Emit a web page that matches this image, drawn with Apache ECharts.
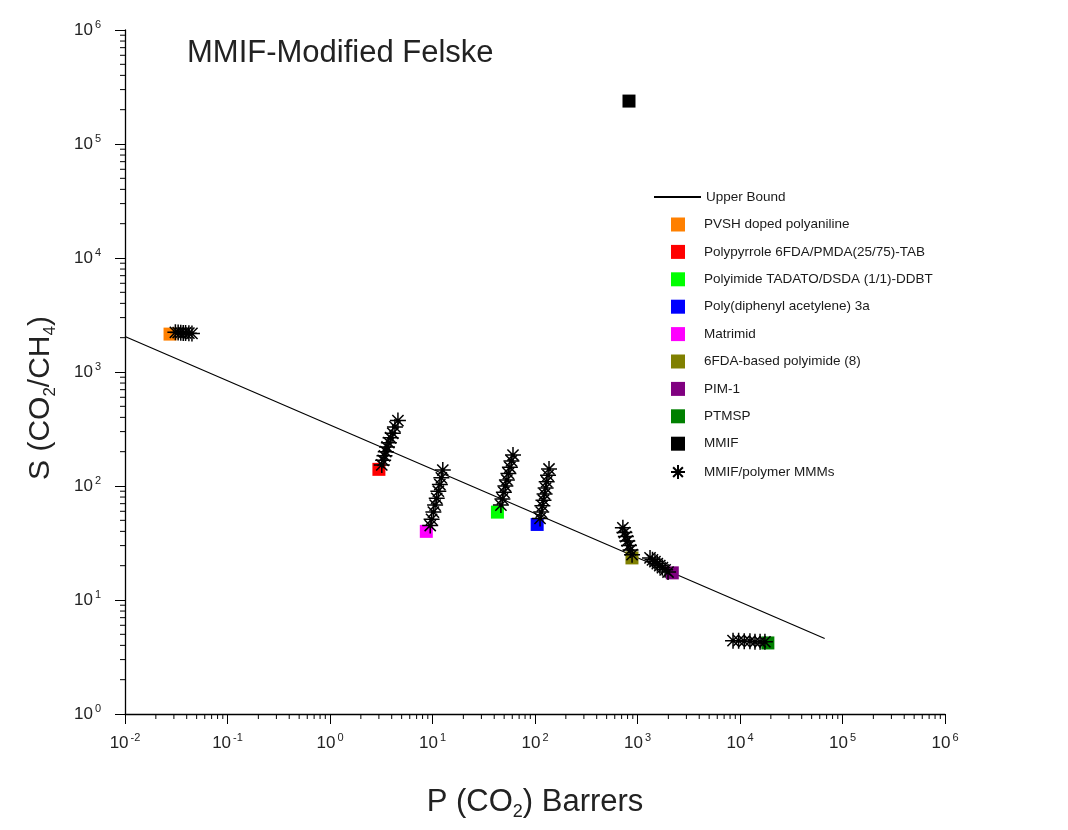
<!DOCTYPE html>
<html><head><meta charset="utf-8">
<script src="https://cdn.jsdelivr.net/npm/echarts@6/dist/echarts.min.js"></script>
<style>html,body{margin:0;padding:0;background:#fff}#c{width:1068px;height:830px}</style>
</head><body><div id="c"></div>
<script>
// ---------- data ----------
const polymerNames = ['PVSH doped polyaniline', 'Polypyrrole 6FDA/PMDA(25/75)-TAB', 'Polyimide TADATO/DSDA (1/1)-DDBT',
  'Poly(diphenyl acetylene) 3a', 'Matrimid', '6FDA-based polyimide (8)', 'PIM-1', 'PTMSP', 'MMIF'];
const polymerColors = ['#FF8000', '#FF0000', '#00FF00', '#0000FF', '#FF00FF', '#808000', '#800080', '#008000', '#000000'];
const polymerP = [0.0275, 3.0, 43, 105, 8.7, 883, 2185, 18700, 826];
const polymerS = [2150, 140, 59, 46, 40, 23.4, 17.3, 4.2, 238000];

const boundP = [0.01, 67000];
const boundS = [2050, 4.6];

const mmmPVSH_P = [0.031, 0.033, 0.035, 0.037, 0.039, 0.042, 0.045];
const mmmPVSH_S = [2230, 2220, 2210, 2200, 2200, 2190, 2180];
const mmmPPy_P = [3.2, 3.3, 3.4, 3.5, 3.6, 3.75, 3.9, 4.1, 4.3, 4.6];
const mmmPPy_S = [153, 168, 184, 200, 220, 240, 265, 290, 330, 375];
const mmmMatrimid_P = [9.5, 9.8, 10.2, 10.6, 11.0, 11.4, 11.8, 12.2, 12.6];
const mmmMatrimid_S = [45, 51, 59, 68, 78, 90, 103, 118, 138];
const mmmPI_P = [46.5, 48.1, 49.7, 51.4, 53.2, 55.0, 56.9, 58.9, 61];
const mmmPI_S = [68, 77, 88, 100, 113, 129, 146, 166, 187];
const mmmPDPA_P = [112, 115, 118, 121, 124, 127, 130, 134, 137];
const mmmPDPA_S = [52, 59, 67, 75, 85, 96, 109, 124, 141];
const mmm6FDA_P = [720, 745, 770, 795, 825, 855, 885];
const mmm6FDA_S = [43, 39, 36, 33, 30, 27.5, 25];
const mmmPIM_P = [1325, 1400, 1480, 1560, 1650, 1750, 1860, 1985];
const mmmPIM_S = [23.4, 22.5, 21.7, 20.8, 20.0, 19.2, 18.4, 17.6];
const mmmPTMSP_P = [8550, 9700, 11000, 12500, 14000, 15700, 17500];
const mmmPTMSP_S = [4.4, 4.4, 4.35, 4.35, 4.3, 4.3, 4.3];

const xDecades = [-2, -1, 0, 1, 2, 3, 4, 5];
const yDecades = [0, 1, 2, 3, 4, 5];
const minorSteps = [2, 3, 4, 5, 6, 7, 8, 9];

// ---------- build ----------
const FONT = 'Arial, "Liberation Sans", sans-serif';
const TXT = '#222';
const pairs = (P, S) => P.map((p, i) => [p, S[i]]);
const mmmData = [].concat(
  pairs(mmmPVSH_P, mmmPVSH_S), pairs(mmmPPy_P, mmmPPy_S), pairs(mmmMatrimid_P, mmmMatrimid_S),
  pairs(mmmPI_P, mmmPI_S), pairs(mmmPDPA_P, mmmPDPA_S), pairs(mmm6FDA_P, mmm6FDA_S),
  pairs(mmmPIM_P, mmmPIM_S), pairs(mmmPTMSP_P, mmmPTMSP_S));

const xMinor = [], yMinor = [];
xDecades.forEach(d => minorSteps.forEach(k => xMinor.push([k * Math.pow(10, d), 1])));
yDecades.forEach(d => minorSteps.forEach(k => yMinor.push([0.01, k * Math.pow(10, d)])));

const STAR = 'path://M10,0L10,20M0,10L20,10M3,3L17,17M3,17L17,3';

const supFmt = v => '{b|10}{s|' + Math.round(Math.log10(v)) + '}';
const tickRich = {
  b: { fontSize: 17, fontFamily: FONT, color: TXT },
  s: { fontSize: 11, fontFamily: FONT, color: TXT, padding: [0, 0, 11, 2] }
};
const nameRich = (fs) => ({
  t: { fontSize: fs, fontFamily: FONT, color: TXT },
  sub: { fontSize: Math.round(fs * 0.58), fontFamily: FONT, color: TXT, padding: [Math.round(fs * 0.62), 0, 0, 0] }
});

const series = [];
series.push({
  name: 'Upper Bound', type: 'line', data: pairs(boundP, boundS), symbol: 'none',
  lineStyle: { color: '#000', width: 1.2 }, itemStyle: { color: '#000' }, z: 1, silent: true
});
polymerNames.forEach((n, i) => series.push({
  name: n, type: 'scatter', symbol: 'rect', symbolSize: 13,
  data: [[polymerP[i], polymerS[i]]], itemStyle: { color: polymerColors[i], opacity: 1 }, z: 2
}));
series.push({
  name: 'MMIF/polymer MMMs', type: 'scatter', symbol: STAR, symbolSize: 16, data: mmmData,
  itemStyle: { color: '#000', borderColor: '#000', borderWidth: 1.5, opacity: 1 }, z: 3
});
const tickRender = (dx, dy) => (params, api) => {
  const p = api.coord([api.value(0), api.value(1)]);
  return { type: 'line', shape: { x1: p[0], y1: p[1], x2: p[0] + dx, y2: p[1] + dy },
    style: { stroke: '#000', lineWidth: 1 } };
};
series.push({ type: 'custom', data: xMinor, encode: { x: 0, y: 1 }, clip: false, silent: true,
  renderItem: tickRender(0, 5), z: 5 });
series.push({ type: 'custom', data: yMinor, encode: { x: 0, y: 1 }, clip: false, silent: true,
  renderItem: tickRender(-5, 0), z: 5 });

const legendText = { fontSize: 13.5, color: '#1a1a1a', fontFamily: FONT };
const option = {
  animation: false,
  backgroundColor: '#fff',
  title: { text: 'MMIF-Modified Felske', left: 182, top: 33,
    textStyle: { fontSize: 31, fontWeight: 'normal', color: TXT, fontFamily: FONT } },
  grid: { left: 125, right: 123, top: 30, bottom: 116, containLabel: false },
  legend: [{
    orient: 'vertical', left: 653, top: 190, padding: 0, itemWidth: 47, itemHeight: 14,
    data: [{ name: 'Upper Bound', itemStyle: { opacity: 0 } }],
    textStyle: legendText
  }, {
    orient: 'vertical', left: 670, top: 217.5, padding: 0, itemWidth: 14, itemHeight: 14, itemGap: 13.4,
    data: polymerNames.concat(['MMIF/polymer MMMs']),
    textStyle: Object.assign({ padding: [0, 0, 0, 14] }, legendText)
  }],
  xAxis: {
    type: 'log', logBase: 10, min: 0.01, max: 1e6, splitNumber: 10,
    axisLine: { lineStyle: { color: '#000', width: 1.3 } },
    axisTick: { show: true, length: 10, inside: false, lineStyle: { color: '#000', width: 1 } },
    minorTick: { show: false }, splitLine: { show: false },
    axisLabel: { formatter: supFmt, rich: tickRich, margin: 18, showMinLabel: true, showMaxLabel: true },
    name: '{t|P (CO}{sub|2}{t|) Barrers}', nameLocation: 'middle', nameGap: 70,
    nameTextStyle: { rich: nameRich(31), fontSize: 31, color: TXT }
  },
  yAxis: {
    type: 'log', logBase: 10, min: 1, max: 1e6, splitNumber: 10,
    axisLine: { lineStyle: { color: '#000', width: 1.3 } },
    axisTick: { show: true, length: 10, inside: false, lineStyle: { color: '#000', width: 1 } },
    minorTick: { show: false }, splitLine: { show: false },
    axisLabel: { formatter: supFmt, rich: tickRich, margin: 24, showMinLabel: true, showMaxLabel: true },
    name: '{t|S (CO}{sub|2}{t|/CH}{sub|4}{t|)}', nameLocation: 'middle', nameGap: 66, nameRotate: 90,
    nameTextStyle: { rich: nameRich(30), fontSize: 30, color: TXT, padding: [0, 52, 0, 0] }
  },
  series: series
};
const chart = echarts.init(document.getElementById('c'));
chart.setOption(option);
</script></body></html>
